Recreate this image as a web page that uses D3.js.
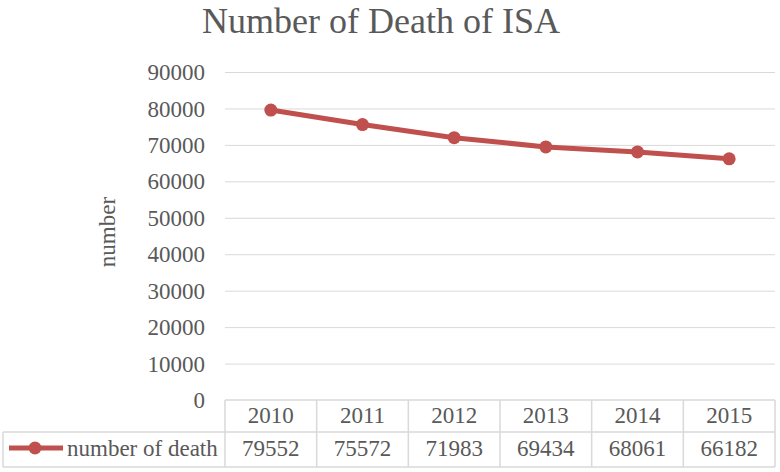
<!DOCTYPE html>
<html>
<head>
<meta charset="utf-8">
<script src="https://cdn.jsdelivr.net/npm/d3@7"></script>
<style>
  html, body { margin: 0; padding: 0; background: #fff; }
  svg { display: block; }
  text { font-family: "Liberation Serif", "Times New Roman", serif; fill: #595959; }
</style>
</head>
<body>
<svg id="chart" width="780" height="472"></svg>
<script>
const title = "Number of Death of ISA";
const yAxisLabel = "number";
const seriesName = "number of death";
const years = ["2010", "2011", "2012", "2013", "2014", "2015"];
const deaths = [79552, 75572, 71983, 69434, 68061, 66182];
const yTicks = [0, 10000, 20000, 30000, 40000, 50000, 60000, 70000, 80000, 90000];

const lineColor = "#C0504D";
const gridColor = "#D9D9D9";
const serif = "'Liberation Serif', 'Times New Roman', serif";

const svg = d3.select("#chart");
const plot = { left: 225, right: 775, top: 72, bottom: 400 };

const x = d3.scaleBand().domain(years).range([plot.left, plot.right]).padding(0);
const y = d3.scaleLinear().domain([0, 90000]).range([plot.bottom, plot.top]);

// Title
svg.append("text")
  .attr("x", 381).attr("y", 33)
  .attr("text-anchor", "middle")
  .style("font-family", serif)
  .style("font-size", "36px")
  .text(title);

// Gridlines + tick labels
const yAxis = d3.axisLeft(y).tickValues(yTicks).tickSize(-(plot.right - plot.left)).tickFormat(d => d);
const gAxis = svg.append("g")
  .attr("transform", `translate(${plot.left},0)`)
  .call(yAxis);
gAxis.attr("font-family", null).attr("font-size", null);
gAxis.select(".domain").remove();
gAxis.selectAll(".tick line").attr("stroke", gridColor).attr("stroke-width", 1)
  .filter(d => d === 0).remove();
gAxis.selectAll(".tick text")
  .attr("x", -20)
  .attr("dy", "0.33em")
  .attr("fill", "#595959")
  .style("font-family", serif)
  .style("font-size", "23px");

// Y axis label
svg.append("text")
  .attr("transform", `translate(115,232) rotate(-90)`)
  .attr("text-anchor", "middle")
  .style("font-family", serif)
  .style("font-size", "23px")
  .text(yAxisLabel);

// Data table
const tbl = svg.append("g");
const rowTop = 400, rowMid = 432, rowBot = 467, legLeft = 3;
function hline(x1, x2, yy) {
  tbl.append("line").attr("x1", x1).attr("x2", x2).attr("y1", yy).attr("y2", yy)
    .attr("stroke", gridColor).attr("stroke-width", 1.5);
}
function vline(xx, y1, y2) {
  tbl.append("line").attr("x1", xx).attr("x2", xx).attr("y1", y1).attr("y2", y2)
    .attr("stroke", gridColor).attr("stroke-width", 1.5);
}
hline(plot.left, plot.right, rowTop);
hline(legLeft, plot.right, rowMid);
hline(legLeft, plot.right, rowBot);
vline(legLeft, rowMid, rowBot);
years.forEach(yr => vline(x(yr), rowTop, rowBot));
vline(plot.right, rowTop, rowBot);

tbl.selectAll(".yr").data(years).enter().append("text")
  .attr("x", d => x(d) + x.bandwidth() / 2)
  .attr("y", 423)
  .attr("text-anchor", "middle")
  .style("font-family", serif)
  .style("font-size", "23px")
  .text(d => d);

tbl.selectAll(".val").data(deaths).enter().append("text")
  .attr("x", (d, i) => x(years[i]) + x.bandwidth() / 2)
  .attr("y", 456)
  .attr("text-anchor", "middle")
  .style("font-family", serif)
  .style("font-size", "23px")
  .text(d => d);

// Legend in table
tbl.append("line").attr("x1", 9).attr("x2", 63).attr("y1", 448).attr("y2", 448)
  .attr("stroke", lineColor).attr("stroke-width", 5);
tbl.append("circle").attr("cx", 35).attr("cy", 448).attr("r", 6.5).attr("fill", lineColor);
tbl.append("text").attr("x", 67).attr("y", 456)
  .style("font-family", serif)
  .style("font-size", "23px")
  .text(seriesName);

// Line
const line = d3.line()
  .x((d, i) => x(years[i]) + x.bandwidth() / 2)
  .y(d => y(d));
svg.append("path").datum(deaths)
  .attr("d", line)
  .attr("fill", "none")
  .attr("stroke", lineColor)
  .attr("stroke-width", 5)
  .attr("stroke-linejoin", "round");
svg.selectAll(".pt").data(deaths).enter().append("circle")
  .attr("cx", (d, i) => x(years[i]) + x.bandwidth() / 2)
  .attr("cy", d => y(d))
  .attr("r", 6.5)
  .attr("fill", lineColor);
</script>
</body>
</html>
